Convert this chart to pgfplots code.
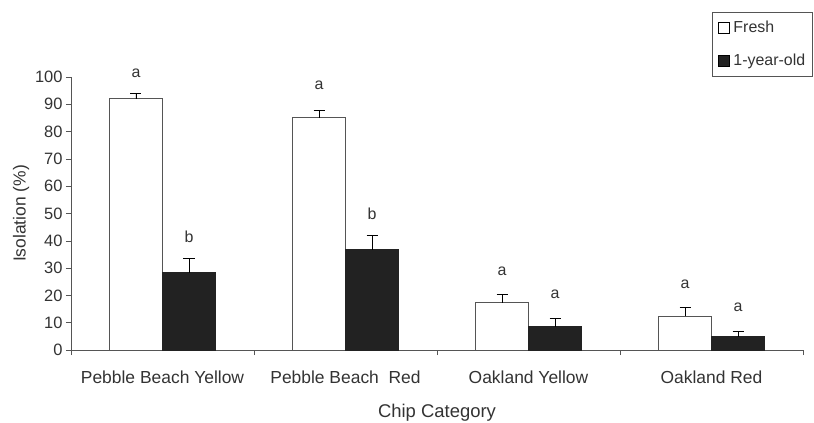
\documentclass[border=0pt]{standalone}
\usepackage{pgfplots}
\pgfplotsset{compat=1.18}
\usepackage{fontspec}
\setmainfont{Liberation Sans}
\definecolor{txt}{HTML}{333333}
\definecolor{ax}{HTML}{555555}
\definecolor{dk}{HTML}{222222}
\begin{document}
\begin{tikzpicture}
\useasboundingbox (-71bp,-73bp) rectangle (743bp,350bp);
\begin{axis}[
  scale only axis, width=732bp, height=273bp,
  xmin=-0.5, xmax=3.5, ymin=0, ymax=100,
  clip=false,
  axis lines*=left,
  axis line style={ax, line width=0.8pt},
  ybar=0pt, bar width=53bp,
  xtick={0,1,2,3},
  xticklabels={Pebble Beach Yellow,Pebble Beach\ \ Red,Oakland Yellow,Oakland Red},
  major x tick style={draw=none},
  minor xtick={-0.5,0.5,1.5,2.5,3.5},
  minor x tick style={ax, line width=0.6pt},
  minor tick length=5bp,
  ytick={0,10,...,100},
  y tick style={ax, line width=0.6pt},
  major tick length=5bp,
  tick align=outside,
  yticklabel style={font=\fontsize{16.5}{18}\selectfont, text=txt},
  xticklabel style={font=\fontsize{17.5}{19}\selectfont, text=txt, yshift=-12bp},
  /pgf/number format/assume math mode=true,
  ylabel={Isolation (\%)},
  xlabel={Chip Category},
  ylabel style={font=\fontsize{17.5}{19}\selectfont, text=txt, yshift=-1bp},
  xlabel style={font=\fontsize{18.5}{20}\selectfont, text=txt, yshift=-14bp},
  legend style={at={(1.013,1.238)}, anchor=north east, draw=ax, line width=0.6pt,
    font=\fontsize{16}{18}\selectfont, text=txt, row sep=16bp,
    inner xsep=5bp, inner ysep=7bp, cells={anchor=west}},
  legend image code/.code={\draw[#1, line width=0.6pt, draw=black] (0bp,-5bp) rectangle (11bp,6bp); \path (13bp,0bp);},
  error bars/y dir=plus, error bars/y explicit,
  error bars/error bar style={black, line width=0.8pt},
  error bars/error mark options={rotate=90, mark size=5.5bp, line width=0.8pt},
]
\addplot[fill=white, draw=ax, line width=0.9pt] coordinates {
  (0,92.0) +- (0,2.0)
  (1,85.0) +- (0,2.7)
  (2,17.3) +- (0,3.1)
  (3,12.3) +- (0,3.2)
};
\addplot[fill=dk, draw=dk, line width=0.9pt] coordinates {
  (0,28.3) +- (0,5.3)
  (1,36.8) +- (0,5.2)
  (2,8.6) +- (0,3.1)
  (3,4.9) +- (0,1.9)
};
\legend{Fresh,1-year-old}
\begin{scope}[font=\fontsize{16}{18}\selectfont, text=txt]
\node at (axis cs:-0.145,101.5) {a};
\node at (axis cs:0.145,41.5) {b};
\node at (axis cs:0.855,97) {a};
\node at (axis cs:1.145,50) {b};
\node at (axis cs:1.855,29) {a};
\node at (axis cs:2.145,20.5) {a};
\node at (axis cs:2.855,24) {a};
\node at (axis cs:3.145,15.5) {a};
\end{scope}
\end{axis}
\end{tikzpicture}
\end{document}
